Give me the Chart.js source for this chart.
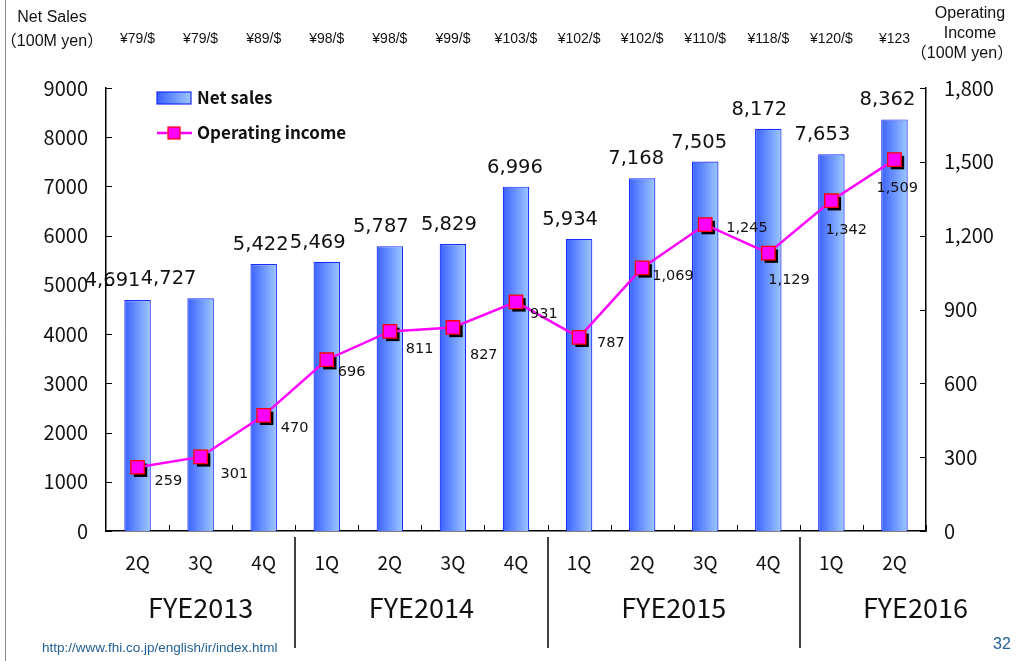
<!DOCTYPE html>
<html>
<head>
<meta charset="utf-8">
<script src="https://cdn.jsdelivr.net/npm/chart.js@4.4.0/dist/chart.umd.min.js"></script>
<style>
  html, body { margin: 0; padding: 0; background: #fff; }
  #wrap { width: 1031px; height: 661px; }
</style>
</head>
<body>
<div id="wrap"><canvas id="salesChart" width="1031" height="661"></canvas></div>
<script>
// data
const quarters = ["2Q", "3Q", "4Q", "1Q", "2Q", "3Q", "4Q", "1Q", "2Q", "3Q", "4Q", "1Q", "2Q"];
const fiscalYears = ["FYE2013", "FYE2014", "FYE2015", "FYE2016"];
const quartersPerYear = [3, 4, 4, 2];
const exchangeRates = ["¥79/$", "¥79/$", "¥89/$", "¥98/$", "¥98/$", "¥99/$", "¥103/$", "¥102/$", "¥102/$", "¥110/$", "¥118/$", "¥120/$", "¥123"];
const netSales = [4691, 4727, 5422, 5469, 5787, 5829, 6996, 5934, 7168, 7505, 8172, 7653, 8362];
const operatingIncome = [259, 301, 470, 696, 811, 827, 931, 787, 1069, 1245, 1129, 1342, 1509];

const CJK = '"Noto Sans CJK JP", "Noto Sans", sans-serif';
const BAR_PCT = 0.42;

// label nudges so the numbers sit like on the slide
const barLabelShift = [-25, -32, -3, -9, -9, -4, -1, -9, -6, -6, -9, -9, -7];
const lineLabelShift = [[17, 14], [20, 17], [17, 13], [11, 13], [16, 18], [17, 28], [14, 12], [18, 6],
                        [10, 8], [21, 4], [0, 27], [-6, 30], [-18, 29]];

function fmt(v) { return v.toLocaleString("en-US"); }

function barGradient(c) {
    const chart = c.chart;
    const xs = chart.scales.x;
    if (!xs || c.dataIndex === undefined) return "#5a86ff";
    const cx = xs.getPixelForValue(c.dataIndex);
    const half = xs.width / quarters.length * BAR_PCT / 2;
    if (!Number.isFinite(cx) || !Number.isFinite(half) || half <= 0) return "#5a86ff";
    const g = chart.ctx.createLinearGradient(cx - half, 0, cx + half, 0);
    g.addColorStop(0, "#3a62ff");
    g.addColorStop(1, "#9ec8ff");
    return g;
}

// extras: inward ticks, shadows, labels, legend, group labels
const slideExtras = {
    id: "slideExtras",
    beforeDatasetDraw(chart, args) {
        if (args.index !== 1) return;
        const ctx = chart.ctx;
        ctx.save();
        ctx.fillStyle = "#000";
        args.meta.data.forEach(p => {
            ctx.fillRect(p.x - 6.7 + 3, p.y - 6.7 + 3, 13.4, 13.4);
        });
        ctx.restore();
    },
    afterDatasetsDraw(chart) {
        const ctx = chart.ctx;
        const bars = chart.getDatasetMeta(0).data;
        const pts = chart.getDatasetMeta(1).data;
        ctx.save();
        ctx.fillStyle = "#111";
        ctx.font = '19.5px "DejaVu Sans"';
        ctx.textAlign = "center";
        ctx.textBaseline = "alphabetic";
        bars.forEach((b, i) => {
            ctx.fillText(fmt(netSales[i]), b.x + barLabelShift[i], b.y - 14);
        });
        ctx.font = '14.5px "DejaVu Sans"';
        ctx.textAlign = "left";
        ctx.textBaseline = "middle";
        pts.forEach((p, i) => {
            ctx.fillText(fmt(operatingIncome[i]), p.x + lineLabelShift[i][0], p.y + lineLabelShift[i][1]);
        });
        ctx.restore();
    },
    afterDraw(chart) {
        const ctx = chart.ctx;
        const a = chart.chartArea;
        const x = chart.scales.x, y = chart.scales.y, y1 = chart.scales.y1;
        const step = x.width / quarters.length;
        ctx.save();
        ctx.strokeStyle = "#000";
        ctx.lineWidth = 1;
        // inward tick marks
        ctx.beginPath();
        y.ticks.forEach(t => {
            const py = Math.round(y.getPixelForValue(t.value)) + 0.5;
            ctx.moveTo(a.left, py); ctx.lineTo(a.left + 6, py);
        });
        y1.ticks.forEach(t => {
            const py = Math.round(y1.getPixelForValue(t.value)) + 0.5;
            ctx.moveTo(a.right, py); ctx.lineTo(a.right - 6, py);
        });
        for (let i = 1; i <= quarters.length; i++) {
            const px = Math.round(x.getPixelForValue(i) - step / 2) + 0.5;
            ctx.moveTo(px, a.bottom); ctx.lineTo(px, a.bottom - 6);
        }
        ctx.stroke();

        // fiscal year separators and names
        ctx.lineWidth = 1.5;
        ctx.fillStyle = "#111";
        ctx.font = "27px " + CJK;
        ctx.textAlign = "center";
        ctx.textBaseline = "middle";
        let start = 0;
        fiscalYears.forEach((fy, k) => {
            const left = x.getPixelForValue(start) - step / 2;
            const end = start + quartersPerYear[k];
            let right = x.getPixelForValue(end) - step / 2;
            if (k === fiscalYears.length - 1) right = chart.width;
            if (start > 0) {
                ctx.beginPath();
                ctx.moveTo(Math.round(left), a.bottom + 6);
                ctx.lineTo(Math.round(left), 648);
                ctx.stroke();
            }
            ctx.fillText(fy, (left + right) / 2, 608);
            start = end;
        });

        // axis titles
        ctx.font = '16px "Liberation Sans", ' + CJK;
        ctx.fillText("Net Sales", 52, 18);
        ctx.fillText("（100M yen）", 52, 42);
        ctx.fillText("Operating", 970, 14);
        ctx.fillText("Income", 970, 34);
        ctx.fillText("（100M yen）", 962, 54);

        // legend
        const lx = 157;
        const g = ctx.createLinearGradient(lx, 0, lx + 34, 0);
        g.addColorStop(0, "#3a62ff");
        g.addColorStop(1, "#9ec8ff");
        ctx.fillStyle = g;
        ctx.fillRect(lx, 92, 34, 12);
        ctx.strokeStyle = "#1a2cff";
        ctx.lineWidth = 1.2;
        ctx.strokeRect(lx, 92, 34, 12);
        ctx.strokeStyle = "#ff00ff";
        ctx.lineWidth = 2.5;
        ctx.beginPath();
        ctx.moveTo(lx, 133); ctx.lineTo(lx + 35, 133);
        ctx.stroke();
        ctx.fillStyle = "#ff00ff";
        ctx.fillRect(lx + 11, 127, 12, 12);
        ctx.strokeStyle = "#ff0000";
        ctx.lineWidth = 1.2;
        ctx.strokeRect(lx + 11, 127, 12, 12);
        ctx.fillStyle = "#111";
        ctx.textAlign = "left";
        ctx.font = "bold 17px " + CJK;
        ctx.fillText(chart.data.datasets[0].label, 197, 98);
        ctx.fillText(chart.data.datasets[1].label, 197, 133);

        // footer
        ctx.fillStyle = "#225f96";
        ctx.font = '13.5px "Liberation Sans"';
        ctx.fillText("http://www.fhi.co.jp/english/ir/index.html", 42, 648);
        ctx.font = '16px "Liberation Sans"';
        ctx.fillText("32", 993, 645);

        // slide edge
        ctx.strokeStyle = "#8a8a8a";
        ctx.lineWidth = 1;
        ctx.beginPath();
        ctx.moveTo(5.5, 0); ctx.lineTo(5.5, 661);
        ctx.stroke();
        ctx.restore();
    }
};

new Chart(document.getElementById("salesChart"), {
    type: "bar",
    data: {
        labels: quarters,
        datasets: [
            {
                label: "Net sales",
                data: netSales,
                yAxisID: "y",
                backgroundColor: barGradient,
                borderColor: "#1a2cff",
                borderWidth: 1.2,
                barPercentage: BAR_PCT,
                categoryPercentage: 1,
                order: 1
            },
            {
                label: "Operating income",
                type: "line",
                data: operatingIncome,
                yAxisID: "y1",
                borderColor: "#ff00ff",
                borderWidth: 2.5,
                pointStyle: "rect",
                pointRadius: 9.5,
                pointBackgroundColor: "#ff00ff",
                pointBorderColor: "#ff0000",
                pointBorderWidth: 1.3,
                tension: 0,
                order: 0
            }
        ]
    },
    options: {
        responsive: false,
        animation: false,
        devicePixelRatio: 1,
        layout: { padding: 0 },
        plugins: {
            legend: { display: false },
            tooltip: { enabled: false }
        },
        scales: {
            x: {
                position: "bottom",
                grid: { display: false, drawTicks: false },
                border: { display: true, color: "#000", width: 1.5 },
                ticks: { color: "#111", font: { family: CJK, size: 19 }, padding: 20, maxRotation: 0 },
                afterFit: s => { s.height = 130; }
            },
            xTop: {
                type: "category",
                position: "top",
                labels: exchangeRates,
                grid: { display: false, drawTicks: false },
                border: { display: false },
                ticks: { color: "#111", font: { family: '"Liberation Sans"', size: 14 }, padding: 40, maxRotation: 0, autoSkip: false },
                afterFit: s => { s.height = 88; }
            },
            y: {
                position: "left",
                min: 0, max: 9000,
                ticks: { stepSize: 1000, color: "#111", font: { family: CJK, size: 20 }, padding: 18,
                         callback: v => String(v) },
                grid: { display: false, drawTicks: false },
                border: { display: true, color: "#000", width: 1.5 },
                afterFit: s => { s.width = 106; }
            },
            y1: {
                position: "right",
                min: 0, max: 1800,
                ticks: { stepSize: 300, color: "#111", font: { family: CJK, size: 20 }, padding: 18,
                         callback: v => fmt(v) },
                grid: { display: false, drawTicks: false },
                border: { display: true, color: "#000", width: 1.5 },
                afterFit: s => { s.width = 105; }
            }
        }
    },
    plugins: [slideExtras]
});
</script>
</body>
</html>
